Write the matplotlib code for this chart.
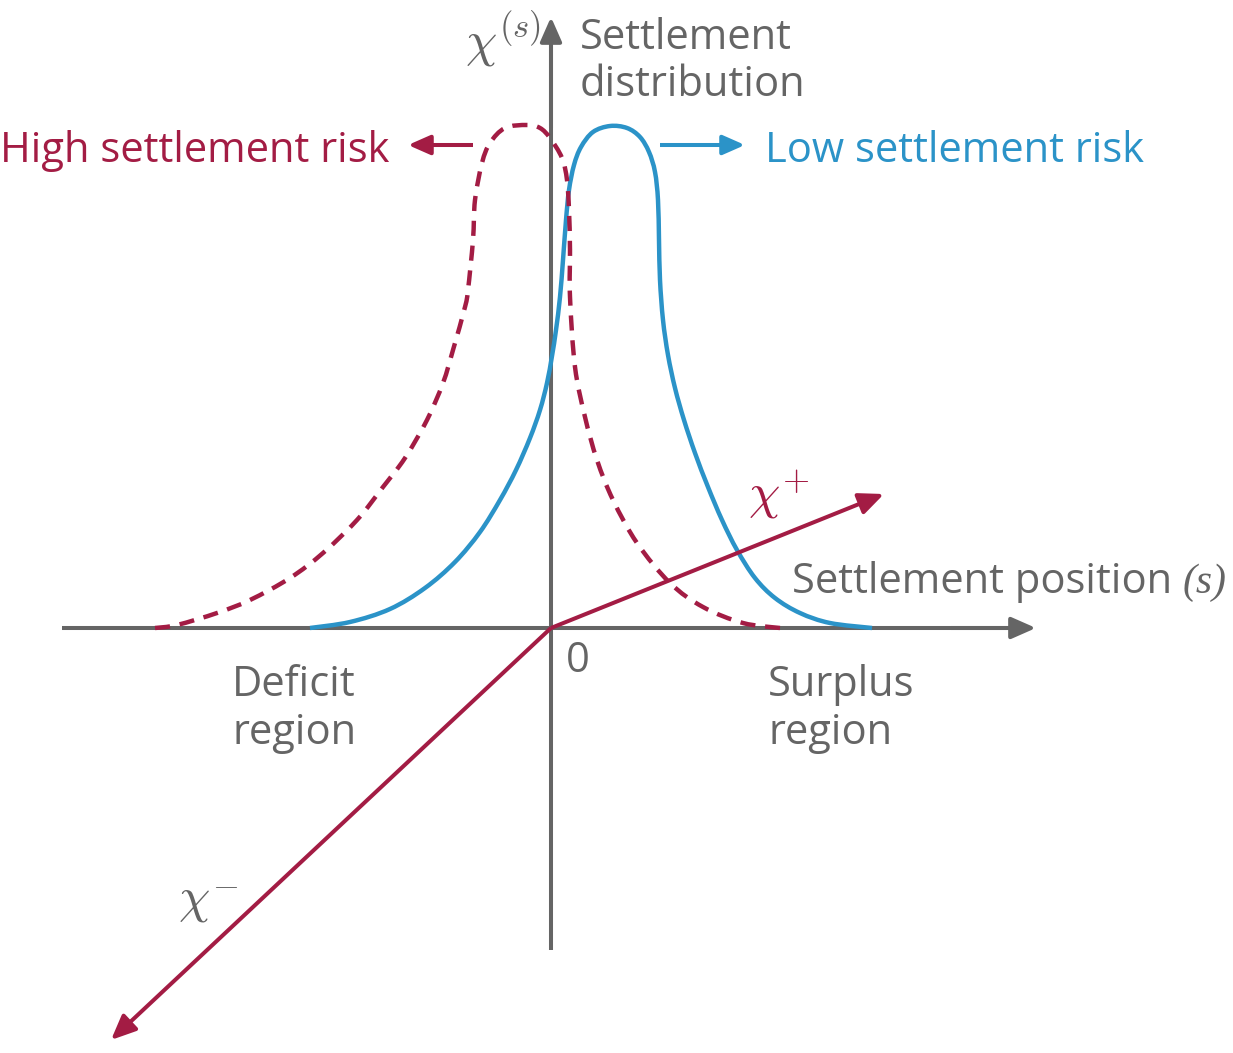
import matplotlib.pyplot as plt
from matplotlib.path import Path
from matplotlib.patches import PathPatch

plt.rcParams['font.family'] = ['Open Sans', 'DejaVu Sans']
plt.rcParams['mathtext.fontset'] = 'cm'

RED = '#A31C44'
BLUE = '#2B93C8'
GRAY = '#656565'

# low settlement risk curve (solid blue)
low_s = [-241, -201, -161, -126, -96, -71, -51, -35, -21, -11,
         -4, 1, 5, 9, 12, 15, 18, 23, 30, 42,
         59, 76, 89, 98, 104, 107, 108, 109, 112, 117,
         124, 133, 144, 157, 171, 186, 204, 224, 249, 279,
         321]
low_chi = [0, 6, 19, 40, 66, 96, 128, 158, 190, 218,
           245, 272, 298, 331, 368, 408, 438, 463, 481, 496,
           502, 500, 491, 476, 456, 428, 388, 348, 308, 273,
           240, 208, 175, 141, 108, 78, 50, 30, 15, 5,
           0]

# high settlement risk curve (dashed red)
high_s = [-396, -374, -334, -301, -261, -228, -194, -168, -146, -124,
          -108, -98, -86, -83, -78, -76, -69, -61, -46, -24,
          -11, -1, 11, 16, 18, 19, 19, 24, 34, 46,
          62, 86, 119, 152, 192, 229]
high_chi = [0, 3, 15, 28, 50, 75, 108, 141, 170, 208,
            245, 278, 321, 338, 388, 428, 465, 485, 500, 503,
            500, 490, 470, 448, 418, 378, 331, 261, 211, 168,
            128, 85, 45, 21, 5, 0]

# penalty lines chi+ / chi-
chi_plus_end = (333, 134)
chi_minus_end = (-440, -412)

fig = plt.figure(figsize=(12.33, 10.53), dpi=100)
ax = fig.add_axes([0, 0, 1, 1])
ax.set_xlim(-551, 682)
ax.set_ylim(-425, 628)
ax.axis('off')


def smooth_path(xs, ys):
    # catmull-rom -> cubic bezier, drawn by matplotlib's path renderer
    pts = list(zip(xs, ys))
    verts = [pts[0]]
    codes = [Path.MOVETO]
    n = len(pts)
    for i in range(n - 1):
        p0 = pts[max(i - 1, 0)]
        p1 = pts[i]
        p2 = pts[i + 1]
        p3 = pts[min(i + 2, n - 1)]
        c1 = (p1[0] + (p2[0] - p0[0]) / 6, p1[1] + (p2[1] - p0[1]) / 6)
        c2 = (p2[0] - (p3[0] - p1[0]) / 6, p2[1] - (p3[1] - p1[1]) / 6)
        verts += [c1, c2, p2]
        codes += [Path.CURVE4] * 3
    return Path(verts, codes)


def arrow(start, end, color, ms=20):
    ax.annotate('', xy=end, xytext=start,
                arrowprops=dict(arrowstyle='-|>,head_length=0.75,head_width=0.33',
                                mutation_scale=ms, lw=2.9, color=color,
                                shrinkA=0, shrinkB=0, capstyle='butt'))


# axes
ax.plot([-489, 470], [0, 0], color=GRAY, lw=2.9, solid_capstyle='butt', zorder=1)
arrow((400, 0), (485, 0), GRAY)
ax.plot([0, 0], [-322, 590], color=GRAY, lw=2.9, solid_capstyle='butt', zorder=1)
arrow((0, 500), (0, 611), GRAY)

# curves
ax.add_patch(PathPatch(smooth_path(low_s, low_chi), fill=False, edgecolor=BLUE,
                       lw=3.2, zorder=3, joinstyle='round'))
ax.add_patch(PathPatch(smooth_path(high_s, high_chi), fill=False, edgecolor=RED,
                       lw=3.2, ls=(0, (3.4, 2.2)), zorder=3, capstyle='butt'))

# chi lines
arrow((0, 0), chi_plus_end, RED)
arrow((0, 0), chi_minus_end, RED)

# small arrows
arrow((-78, 483), (-143, 483), RED, ms=18)
arrow((109, 483), (194, 483), BLUE, ms=18)

fs = 30
ax.text(-551, 466, 'High settlement risk', color=RED, fontsize=fs, va='baseline', ha='left')
ax.text(214, 466, 'Low settlement risk', color=BLUE, fontsize=fs, va='baseline', ha='left')
ax.text(29, 579, 'Settlement', color=GRAY, fontsize=fs, va='baseline')
ax.text(29, 532, 'distribution', color=GRAY, fontsize=fs, va='baseline')
pos = ax.text(241, 35, 'Settlement position ', color=GRAY, fontsize=fs, va='baseline')
ax.text(15, -44, '0', color=GRAY, fontsize=fs, va='baseline')
ax.text(-319, -68, 'Deficit', color=GRAY, fontsize=fs, va='baseline')
ax.text(-319, -116, 'region', color=GRAY, fontsize=fs, va='baseline')
ax.text(217, -68, 'Surplus', color=GRAY, fontsize=fs, va='baseline')
ax.text(217, -116, 'region', color=GRAY, fontsize=fs, va='baseline')

fig.canvas.draw()
r = fig.canvas.get_renderer()
inv = ax.transData.inverted()
x_end = inv.transform((pos.get_window_extent(r).x1, 0))[0]
ax.text(x_end, 35, '(s)', color=GRAY, fontsize=30, va='baseline',
        family='Liberation Serif', style='italic')


def chi(x, y, sup, color):
    t = ax.text(x, y, r'$\chi$', color=color, fontsize=36, va='baseline')
    fig.canvas.draw()
    xe = inv.transform((t.get_window_extent(r).x1, 0))[0]
    ax.text(xe + 2, y + 18, sup, color=color, fontsize=25, va='baseline')


chi(-86, 573, r'$(s)$', GRAY)
chi(197, 120, r'$+$', RED)
chi(-373, -284, r'$-$', GRAY)

fig.savefig('out.png', dpi=100)
